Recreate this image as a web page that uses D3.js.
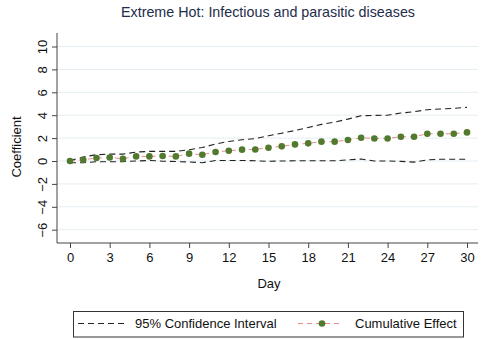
<!DOCTYPE html>
<html>
<head>
<meta charset="utf-8">
<script src="https://cdn.jsdelivr.net/npm/d3@7"></script>
<style>
  html, body { margin: 0; padding: 0; background: #fff; }
  svg { display: block; font-family: "Liberation Sans", Arial, sans-serif; }
</style>
</head>
<body>
<svg id="chart" width="482" height="339"></svg>
<script>
// Cumulative effect by lag day, with its 95% confidence bounds
const days = d3.range(0, 31);
const effect = [0.00, 0.11, 0.26, 0.31, 0.20, 0.40, 0.40, 0.44, 0.40, 0.64, 0.55,
                0.79, 0.90, 0.99, 1.01, 1.16, 1.28, 1.45, 1.54, 1.69, 1.69,
                1.83, 2.03, 1.97, 1.97, 2.12, 2.12, 2.38, 2.38, 2.38, 2.50];
const upper = [0.05, 0.35, 0.55, 0.60, 0.60, 0.78, 0.84, 0.84, 0.84, 0.98, 1.18,
               1.48, 1.71, 1.86, 1.95, 2.20, 2.43, 2.66, 2.93, 3.20, 3.40,
               3.66, 3.95, 3.98, 4.00, 4.19, 4.30, 4.48, 4.54, 4.60, 4.68];
const lower = [-0.15, -0.15, -0.06, -0.06, -0.06, 0.00, 0.05, -0.02, -0.05, -0.08, -0.15,
               0.05, 0.05, 0.05, 0.02, -0.03, 0.00, 0.02, 0.02, 0.02, 0.02,
               0.10, 0.17, 0.00, 0.00, -0.03, -0.10, 0.10, 0.15, 0.15, 0.15];
const xTicks = [0, 3, 6, 9, 12, 15, 18, 21, 24, 27, 30];
const yTicks = [-6, -4, -2, 0, 2, 4, 6, 8, 10];

const svg = d3.select("#chart");
const plot = { left: 57, right: 478, top: 33, bottom: 243 };

const x = d3.scaleLinear().domain([0, 30]).range([70, 467]);
const y = d3.scaleLinear().domain([0, 10]).range([161, 46.5]);

// Horizontal gridlines
svg.append("g").selectAll("line").data(yTicks).join("line")
  .attr("x1", plot.left).attr("x2", plot.right)
  .attr("y1", d => y(d)).attr("y2", d => y(d))
  .attr("stroke", "#e4edf2").attr("stroke-width", 1);

// Axes
const axisColor = "#444";
const yAxis = svg.append("g").attr("transform", `translate(${plot.left},0)`)
  .call(d3.axisLeft(y).tickValues(yTicks).tickSize(5).tickPadding(3));
yAxis.select(".domain").attr("d", `M0,${plot.top}V${plot.bottom}`).attr("stroke", axisColor);
yAxis.selectAll(".tick line").attr("stroke", axisColor);
yAxis.selectAll(".tick text")
  .attr("font-size", 13).attr("fill", "#111")
  .attr("text-anchor", "middle")
  .attr("transform", "rotate(-90)")
  .attr("x", 0).attr("y", -10).attr("dy", "0");

const xAxis = svg.append("g").attr("transform", `translate(0,${plot.bottom})`)
  .call(d3.axisBottom(x).tickValues(xTicks).tickSize(5).tickPadding(5));
xAxis.select(".domain").attr("d", `M${plot.left},0H${plot.right}`).attr("stroke", axisColor);
xAxis.selectAll(".tick line").attr("stroke", axisColor);
xAxis.selectAll(".tick text").attr("font-size", 13).attr("fill", "#111");

// Axis titles and chart title
svg.append("text").attr("x", 269).attr("y", 288).attr("text-anchor", "middle")
  .attr("font-size", 13).attr("fill", "#111").text("Day");
svg.append("text").attr("transform", "translate(21,147) rotate(-90)")
  .attr("text-anchor", "middle").attr("font-size", 13).attr("fill", "#111")
  .text("Coefficient");
svg.append("text").attr("x", 268).attr("y", 17).attr("text-anchor", "middle")
  .attr("font-size", 14.3).attr("fill", "#1e2d4a")
  .text("Extreme Hot: Infectious and parasitic diseases");

// Confidence bounds
const line = d3.line().x((d, i) => x(days[i])).y(d => y(d));
[upper, lower].forEach(s => {
  svg.append("path").datum(s).attr("d", line)
    .attr("fill", "none").attr("stroke", "#222").attr("stroke-width", 1.1)
    .attr("stroke-dasharray", "6,4");
});

// Cumulative effect: dashed connector and markers
svg.append("path").datum(effect).attr("d", line)
  .attr("fill", "none").attr("stroke", "#f08a8a").attr("stroke-width", 1)
  .attr("stroke-dasharray", "5,4");
svg.append("g").selectAll("circle").data(effect).join("circle")
  .attr("cx", (d, i) => x(days[i])).attr("cy", d => y(d)).attr("r", 3.3)
  .attr("fill", "#527a2e");

// Legend
const lg = svg.append("g");
lg.append("rect").attr("x", 73.5).attr("y", 311.5).attr("width", 390).attr("height", 25.5)
  .attr("fill", "#fff").attr("stroke", "#333").attr("stroke-width", 1);
lg.append("line").attr("x1", 78).attr("x2", 127).attr("y1", 323.5).attr("y2", 323.5)
  .attr("stroke", "#222").attr("stroke-width", 1.1).attr("stroke-dasharray", "6,4");
lg.append("text").attr("x", 135).attr("y", 328).attr("font-size", 13).attr("fill", "#111")
  .text("95% Confidence Interval");
lg.append("line").attr("x1", 298).attr("x2", 343).attr("y1", 323.5).attr("y2", 323.5)
  .attr("stroke", "#f08a8a").attr("stroke-width", 1).attr("stroke-dasharray", "5,4");
lg.append("circle").attr("cx", 322).attr("cy", 323.5).attr("r", 3.3).attr("fill", "#527a2e");
lg.append("text").attr("x", 355).attr("y", 328).attr("font-size", 13).attr("fill", "#111")
  .text("Cumulative Effect");
</script>
</body>
</html>
